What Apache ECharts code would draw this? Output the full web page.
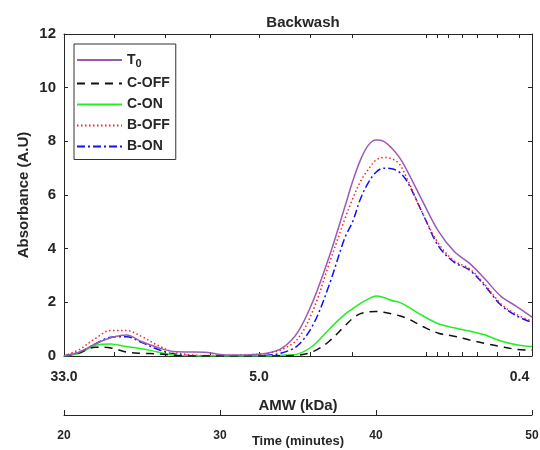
<!DOCTYPE html>
<html>
<head>
<meta charset="utf-8">
<script src="https://cdn.jsdelivr.net/npm/echarts@6/dist/echarts.min.js"></script>
<style>
  html, body { margin: 0; padding: 0; background: #fff; }
  #chart { width: 540px; height: 450px; }
</style>
</head>
<body>
<div id="chart"></div>
<script>
// elution time (minutes) shared by every curve
const time = [20, 21, 22, 23, 24, 25, 26, 27, 28, 29, 30, 31, 32, 33, 34, 35, 36, 37, 38, 38.5,
  39, 39.5, 40, 40.5, 41, 41.5, 42, 43, 44, 45, 46, 47, 48, 49, 50];

const t0 = [0, 0.15, 0.45, 0.68, 0.78, 0.53, 0.32, 0.17, 0.15, 0.14, 0.06, 0.04, 0.05, 0.1, 0.3, 0.9,
  2.1, 3.7, 5.55, 6.5, 7.3, 7.85, 8.05, 8.0, 7.75, 7.4, 6.9, 5.75, 4.65, 3.9, 3.45, 2.86, 2.23, 1.85, 1.45];
const cOff = [0, 0.12, 0.33, 0.3, 0.15, 0.1, 0.08, 0.03, 0, 0, 0, 0, 0, 0, 0.01, 0.03,
  0.17, 0.55, 1.12, 1.4, 1.58, 1.64, 1.66, 1.63, 1.57, 1.5, 1.4, 1.1, 0.85, 0.74, 0.6, 0.47, 0.35, 0.25, 0.22];
const cOn = [0, 0.1, 0.4, 0.45, 0.35, 0.27, 0.15, 0.04, 0.01, 0, 0, 0, 0, 0, 0.03, 0.08,
  0.4, 1.0, 1.55, 1.76, 1.96, 2.12, 2.24, 2.18, 2.07, 2.0, 1.85, 1.5, 1.2, 1.05, 0.93, 0.78, 0.56, 0.42, 0.35];
const bOff = [0, 0.25, 0.65, 0.95, 0.95, 0.72, 0.4, 0.15, 0.05, 0.02, 0.02, 0.03, 0.05, 0.1, 0.25, 0.65,
  1.75, 3.45, 5.1, 5.85, 6.5, 6.95, 7.3, 7.4, 7.35, 7.15, 6.6, 5.3, 4.2, 3.55, 3.25, 2.65, 1.95, 1.55, 1.3];
const bOn = [0, 0.15, 0.45, 0.7, 0.72, 0.5, 0.25, 0.08, 0.02, 0, 0, 0, 0, 0.03, 0.12, 0.4,
  1.2, 2.65, 4.4, 5.0, 5.85, 6.45, 6.85, 7.0, 6.98, 6.85, 6.5, 5.3, 4.1, 3.5, 3.2, 2.6, 1.9, 1.5, 1.25];

// AMW tick labels placed on the time scale
const amwTickTimes = [20, 32.5, 49.2];
const amwTickLabels = ['33.0', '5.0', '0.4'];
const amwMinorTimes = [20, 23.2, 26.5, 29.4, 32.5, 35.8, 38.5, 43.2, 43.9, 44.6, 45.5, 46.5, 47.8, 49.2, 50];

const names = ['T0', 'C-OFF', 'C-ON', 'B-OFF', 'B-ON'];
const values = [t0, cOff, cOn, bOff, bOn];
const colors = ['#9b5bb4', '#111111', '#22ee22', '#ff2020', '#1010ff'];
const dashes = ['solid', [8, 6], 'solid', [1.5, 2.5], [8, 3, 2, 3]];

const font = 'Liberation Sans, Arial, sans-serif';
const ink = '#262626';

const chart = echarts.init(document.getElementById('chart'));

const series = names.map((name, i) => ({
  name,
  type: 'line',
  xAxisIndex: 0,
  yAxisIndex: 0,
  smooth: 0.35,
  symbol: 'none',
  legendIcon: 'rect',
  data: time.map((t, k) => [t, values[i][k]]),
  lineStyle: { color: colors[i], width: 1.5, type: dashes[i] },
  itemStyle: { color: colors[i] },
  z: 10 - i,
}));

const option = {
  animation: false,
  backgroundColor: '#fff',
  textStyle: { fontFamily: font },
  title: {
    text: 'Backwash',
    left: 298,
    textAlign: 'center',
    top: 10,
    textStyle: { fontFamily: font, fontSize: 15, fontWeight: 'bold', color: ink },
  },
  legend: {
    orient: 'vertical',
    left: 74,
    top: 44,
    padding: [9, 6, 6, 2],
    itemWidth: 45,
    itemHeight: 14,
    itemGap: 7,
    borderColor: '#333',
    borderWidth: 1,
    backgroundColor: '#fff',
    data: names,
    itemStyle: { opacity: 0 },
    textStyle: {
      fontFamily: font, fontSize: 14, fontWeight: 'bold', color: ink,
      rich: {
        sub: { fontFamily: font, fontSize: 11, fontWeight: 'bold', color: ink, verticalAlign: 'bottom', padding: [8, 0, 0, 0] },
      },
    },
    formatter: (n) => (n === 'T0' ? 'T{sub|0}' : n),
  },
  grid: { left: 64, right: 8, top: 34, bottom: 94, outerBoundsMode: 'none', containLabel: false },
  xAxis: [
    {
      type: 'value',
      min: 20,
      max: 50,
      position: 'bottom',
      name: 'AMW (kDa)',
      nameLocation: 'middle',
      nameGap: 42,
      nameMoveOverlap: false,
      nameTextStyle: { fontFamily: font, fontSize: 15, fontWeight: 'bold', color: ink },
      axisLine: { show: true, onZero: false, lineStyle: { color: ink, width: 1 } },
      axisTick: { show: true, inside: true, length: 4, customValues: amwMinorTimes, lineStyle: { color: ink } },
      axisLabel: {
        customValues: amwTickTimes,
        margin: 14,
        fontFamily: font,
        fontSize: 14,
        fontWeight: 'bold',
        color: ink,
        formatter: (v) => amwTickLabels[amwTickTimes.indexOf(v)],
      },
      splitLine: { show: false },
    },
    {
      type: 'value',
      min: 20,
      max: 50,
      position: 'top',
      axisLine: { show: true, onZero: false, lineStyle: { color: ink, width: 1 } },
      axisTick: { show: true, inside: true, length: 4, customValues: amwMinorTimes, lineStyle: { color: ink } },
      axisLabel: { show: false },
      splitLine: { show: false },
    },
    {
      type: 'value',
      min: 20,
      max: 50,
      interval: 10,
      position: 'bottom',
      offset: 59,
      name: 'Time (minutes)',
      nameLocation: 'middle',
      nameGap: 20,
      nameMoveOverlap: false,
      nameTextStyle: { fontFamily: font, fontSize: 13, fontWeight: 'bold', color: ink },
      axisLine: { show: true, onZero: false, lineStyle: { color: ink, width: 1 } },
      axisTick: { show: true, inside: true, length: 5, lineStyle: { color: ink } },
      axisLabel: { margin: 15, fontFamily: font, fontSize: 12, fontWeight: 'bold', color: ink },
      splitLine: { show: false },
    },
  ],
  yAxis: [
    {
      type: 'value',
      min: 0,
      max: 12,
      interval: 2,
      position: 'left',
      name: 'Absorbance (A.U)',
      nameLocation: 'middle',
      nameGap: 33,
      nameMoveOverlap: false,
      nameTextStyle: { fontFamily: font, fontSize: 15, fontWeight: 'bold', color: ink },
      axisLine: { show: true, onZero: false, lineStyle: { color: ink, width: 1 } },
      axisTick: { show: true, inside: true, length: 4, lineStyle: { color: ink } },
      axisLabel: { margin: 8, fontFamily: font, fontSize: 15, fontWeight: 'bold', color: ink },
      splitLine: { show: false },
    },
    {
      type: 'value',
      min: 0,
      max: 12,
      interval: 2,
      position: 'right',
      axisLine: { show: true, onZero: false, lineStyle: { color: ink, width: 1 } },
      axisTick: { show: true, inside: true, length: 4, lineStyle: { color: ink } },
      axisLabel: { show: false },
      splitLine: { show: false },
    },
  ],
  series,
};

chart.setOption(option);
</script>
</body>
</html>
